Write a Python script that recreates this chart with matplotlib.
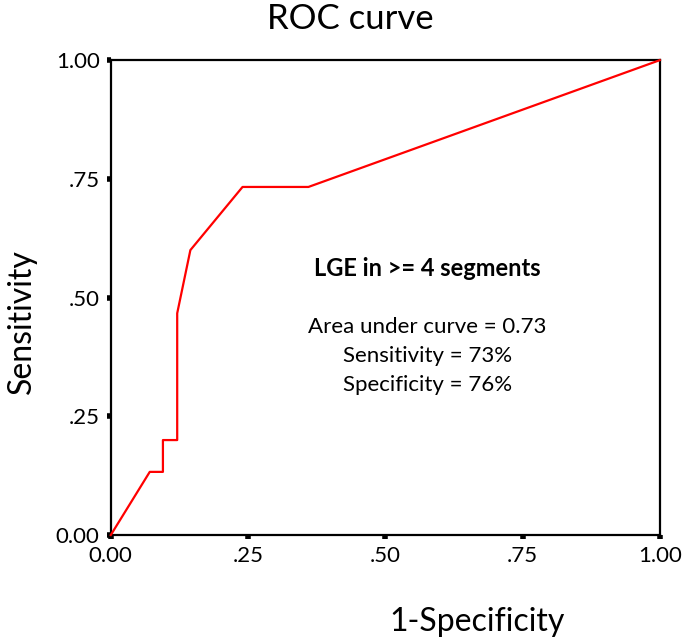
import matplotlib
matplotlib.use("Agg")
import matplotlib.pyplot as plt

fpr = [0.0, 0.071, 0.095, 0.095, 0.121, 0.121, 0.145, 0.24, 0.36, 1.0]
tpr = [0.0, 0.133, 0.133, 0.2, 0.2, 0.467, 0.6, 0.733, 0.733, 1.0]
ticks = [0.0, 0.25, 0.5, 0.75, 1.0]
tick_labels = ["0.00", ".25", ".50", ".75", "1.00"]

plt.rcParams['font.family'] = ['Lato', 'DejaVu Sans']

W, H = 688, 640
fig = plt.figure(figsize=(6.88, 6.4), dpi=100)
ax = fig.add_axes([0.161, 0.164, 0.798, 0.742])
ax.plot(fpr, tpr, color='#ff0000', lw=1.6, clip_on=False, zorder=3)
ax.set_xlim(0, 1)
ax.set_ylim(0, 1)
ax.set_xticks(ticks)
ax.set_xticklabels(tick_labels, fontsize=16)
ax.set_yticks(ticks)
ax.set_yticklabels(tick_labels, fontsize=16)
ax.tick_params(direction='out', length=3, width=4, pad=5)
for s in ax.spines.values():
    s.set_linewidth(1.6)

fig.text(477 / W, 1 - 622 / H, "1-Specificity", fontsize=23, ha='center', va='center')
fig.text(22 / W, 1 - 322 / H, "Sensitivity", fontsize=23, ha='center', va='center', rotation=90)
fig.text(350 / W, 1 - 19 / H, "ROC curve", fontsize=25, ha='center', va='center')

ax.text(0.577, 0.562, "LGE in >= 4 segments", fontsize=17, fontweight='bold',
        ha='center', va='center', transform=ax.transAxes)
ax.text(0.577, 0.438, "Area under curve = 0.73", fontsize=16, ha='center', va='center', transform=ax.transAxes)
ax.text(0.577, 0.377, "Sensitivity = 73%", fontsize=16, ha='center', va='center', transform=ax.transAxes)
ax.text(0.577, 0.316, "Specificity = 76%", fontsize=16, ha='center', va='center', transform=ax.transAxes)

fig.savefig("out.png", dpi=100, facecolor='white')
